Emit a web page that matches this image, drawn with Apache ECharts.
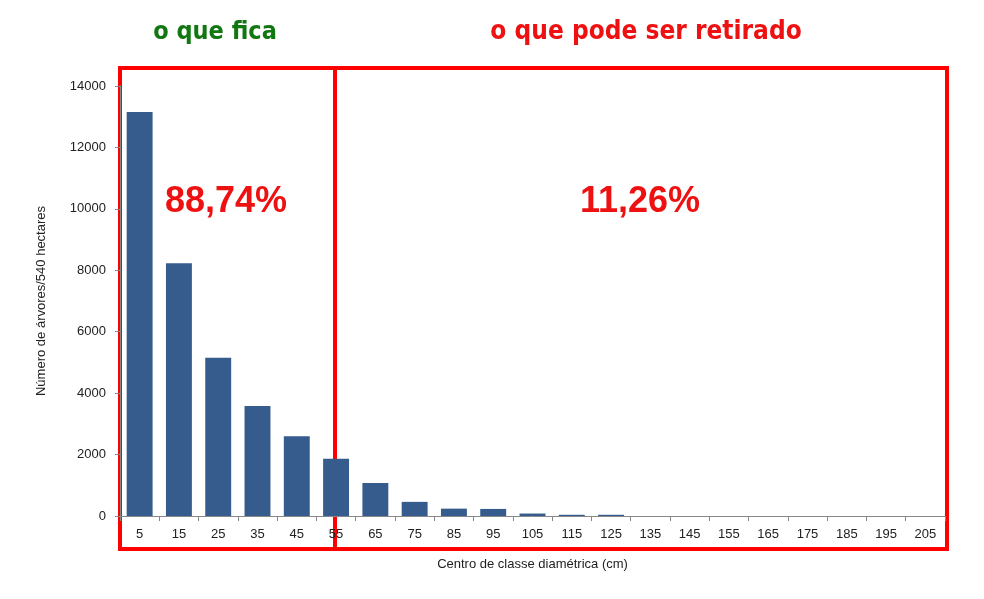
<!DOCTYPE html>
<html><head><meta charset="utf-8">
<script src="https://cdn.jsdelivr.net/npm/echarts@6/dist/echarts.min.js"></script>
<style>html,body{margin:0;padding:0;background:#fff}#c{width:984px;height:599px}</style>
</head><body><div id="c"></div>
<script>
const categories = ['5','15','25','35','45','55','65','75','85','95','105','115','125','135','145','155','165','175','185','195','205'];
const trees = [13150,8230,5150,3580,2600,1860,1075,460,240,230,80,40,40,0,0,0,0,0,0,0,0];
const yTicks = {min:0, max:14000, interval:2000};
const chart = echarts.init(document.getElementById('c'));
chart.setOption({
  backgroundColor:'#fff',
  grid:{left:120,right:39,top:86,bottom:83},
  xAxis:{type:'category',data:categories,
    name:'Centro de classe diamétrica (cm)',nameLocation:'middle',nameGap:42,
    nameTextStyle:{fontFamily:'Arial, Liberation Sans',fontSize:13,color:'#222'},
    axisLine:{lineStyle:{color:'#888'}},axisTick:{show:true,alignWithLabel:false,lineStyle:{color:'#888'}},
    axisLabel:{fontFamily:'Arial, Liberation Sans',fontSize:13,color:'#222',interval:0,margin:12}},
  yAxis:{type:'value',min:yTicks.min,max:yTicks.max,interval:yTicks.interval,
    name:'Número de árvores/540 hectares',nameLocation:'middle',nameGap:72,
    nameTextStyle:{fontFamily:'Arial, Liberation Sans',fontSize:13,color:'#222'},
    splitLine:{show:false},axisLine:{show:true,lineStyle:{color:'#888'}},axisTick:{show:true,lineStyle:{color:'#888'}},
    axisLabel:{fontFamily:'Arial, Liberation Sans',fontSize:13,color:'#222',margin:14,formatter:v=>String(v)}},
  series:[{type:'bar',data:trees,barWidth:'66%',itemStyle:{color:'#365c8d'}}],
  graphic:[
    {type:'rect',shape:{x:120,y:68,width:215,height:481},style:{fill:'none',stroke:'#ff0000',lineWidth:4}},
    {type:'rect',shape:{x:335,y:68,width:612,height:481},style:{fill:'none',stroke:'#ff0000',lineWidth:4}},
    {type:'text',x:215,y:32,style:{text:'o que fica',fill:'#117711',font:'bold 25px "DejaVu Sans Condensed", "Liberation Sans Narrow", sans-serif',textAlign:'center',textVerticalAlign:'middle'}},
    {type:'text',x:646,y:32,style:{text:'o que pode ser retirado',fill:'#ee1111',font:'bold 26px "DejaVu Sans Condensed", "Liberation Sans Narrow", sans-serif',textAlign:'center',textVerticalAlign:'middle'}},
    {type:'text',x:226,y:202,style:{text:'88,74%',fill:'#ee1111',font:'bold 36px Arial, "Liberation Sans", sans-serif',textAlign:'center',textVerticalAlign:'middle'}},
    {type:'text',x:640,y:202,style:{text:'11,26%',fill:'#ee1111',font:'bold 36px Arial, "Liberation Sans", sans-serif',textAlign:'center',textVerticalAlign:'middle'}}
  ]
});
</script></body></html>
